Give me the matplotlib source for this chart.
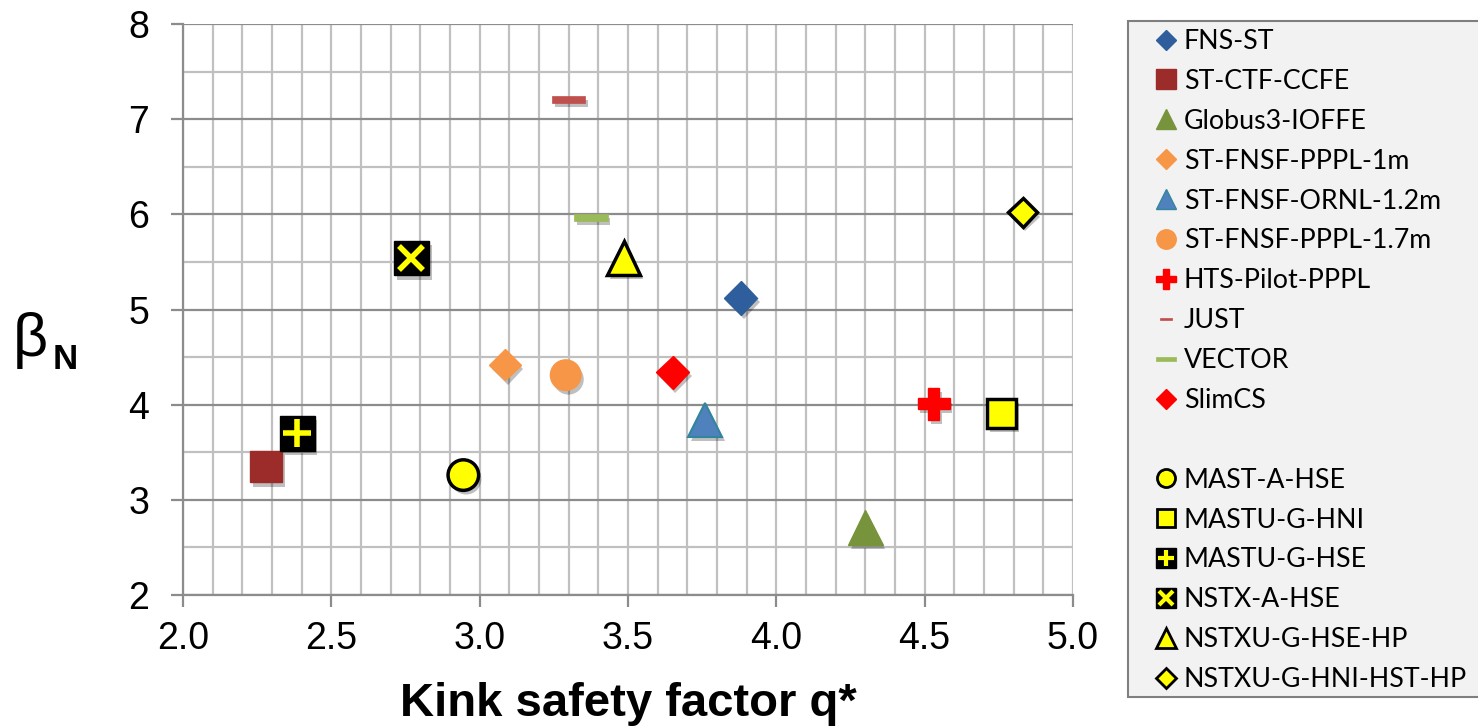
import matplotlib
matplotlib.use('Agg')
import matplotlib.pyplot as plt
import matplotlib.patheffects as pe
from matplotlib.lines import Line2D
from matplotlib.path import Path
from matplotlib.patches import Rectangle
from matplotlib.legend_handler import HandlerTuple

# ---------------- data ----------------
names = ['FNS-ST', 'ST-CTF-CCFE', 'Globus3-IOFFE', 'ST-FNSF-PPPL-1m',
         'ST-FNSF-ORNL-1.2m', 'ST-FNSF-PPPL-1.7m', 'HTS-Pilot-PPPL', 'JUST',
         'VECTOR', 'SlimCS',
         'MAST-A-HSE', 'MASTU-G-HNI', 'MASTU-G-HSE', 'NSTX-A-HSE',
         'NSTXU-G-HSE-HP', 'NSTXU-G-HNI-HST-HP']
q_star = [3.88, 2.28, 4.30, 3.085, 3.76, 3.29, 4.53, 3.30, 3.375, 3.65,
          2.945, 4.76, 2.385, 2.77, 3.485, 4.83]
beta_n = [5.12, 3.35, 2.71, 4.42, 3.84, 4.31, 4.01, 7.21, 5.97, 4.34,
          3.26, 3.91, 3.70, 5.54, 5.54, 6.02]

x_ticks = [2.0, 2.5, 3.0, 3.5, 4.0, 4.5, 5.0]
y_ticks = [2, 3, 4, 5, 6, 7, 8]

# ---------------- styles ----------------
dash = Path([(-1, -0.21), (1, -0.21), (1, 0.21), (-1, 0.21), (-1, -0.21)],
            [Path.MOVETO, Path.LINETO, Path.LINETO, Path.LINETO, Path.CLOSEPOLY])

# each style: list of layers (marker, size, face, edge, edgewidth, legend size, legend edgewidth)
styles = [
    [('D', 17, '#2F5E9C', '#2F5E9C', 1, 10, 1)],
    [('s', 23, '#9B2C2A', '#9B2C2A', 1, 14, 1)],
    [('^', 25, '#77933C', '#77933C', 1, 15, 1)],
    [('D', 16, '#F79646', '#F79646', 1, 10, 1)],
    [('^', 25, '#4F81BD', '#31859C', 1.5, 15, 1)],
    [('o', 22, '#F79646', '#F79646', 1, 14, 1)],
    [('P', 23, '#FF0000', '#FF0000', 1, 14, 1)],
    [(dash, 24, '#C0504D', '#C0504D', 0.5, 8, 0.5)],
    [(dash, 24, '#9BBB59', '#9BBB59', 0.5, 15, 0.5)],
    [('D', 17, '#FF0000', '#FF0000', 1, 10, 1)],
    [('o', 22, '#FFFF00', 'black', 2.5, 13, 2)],
    [('s', 21, '#FFFF00', 'black', 2.5, 13, 2)],
    [('s', 25, 'black', 'black', 1, 14, 1), ('+', 20, 'none', '#FFFF00', 4, 11, 3)],
    [('s', 25, 'black', 'black', 1, 14, 1), ('x', 17, 'none', '#FFFF00', 4, 10, 3)],
    [('^', 24, '#FFFF00', 'black', 2.5, 14, 2)],
    [('D', 15, '#FFFF00', 'black', 2.5, 10, 2)],
]

W, H = 1478, 727
fig = plt.figure(figsize=(W / 100, H / 100), dpi=100)
ax = fig.add_axes([183 / W, 1 - 595 / H, (1073 - 183) / W, (595 - 24) / H])

ax.set_xlim(2.0, 5.0)
ax.set_ylim(2, 8)
ax.set_xticks(x_ticks)
ax.set_xticks([2 + 0.1 * i for i in range(31)], minor=True)
ax.set_yticks(y_ticks)
ax.set_yticks([2.5 + i for i in range(6)], minor=True)
ax.set_xticklabels(['%.1f' % v for v in x_ticks])
ax.set_yticklabels([str(v) for v in y_ticks])

ax.grid(True, which='minor', axis='both', color='#C0C0C0', lw=1.6, zorder=0)
ax.grid(True, which='major', axis='x', color='#C0C0C0', lw=1.6, zorder=0)
ax.grid(True, which='major', axis='y', color='#8C8C8C', lw=1.6, zorder=0)
ax.set_axisbelow(True)
for s in ['top', 'right']:
    ax.spines[s].set_visible(False)
for s in ['left', 'bottom']:
    ax.spines[s].set_color('#8C8C8C')
    ax.spines[s].set_linewidth(1.6)
ax.tick_params(which='major', direction='out', length=8.5, width=1.6, color='#8C8C8C',
               labelsize=27)
ax.tick_params(axis='x', pad=10)
ax.tick_params(axis='y', pad=16)
ax.tick_params(which='minor', length=0)
for lab in ax.get_xticklabels() + ax.get_yticklabels():
    lab.set_fontfamily('Liberation Sans')

shadow = [pe.withSimplePatchShadow(offset=(2, -3), shadow_rgbFace='black', alpha=0.25)]

handles = []
for i, layers in enumerate(styles):
    legend_parts = []
    for j, (m, ms, fc, ec, mew, lms, lmew) in enumerate(layers):
        ax.plot([q_star[i]], [beta_n[i]], linestyle='none', marker=m, markersize=ms,
                markerfacecolor=fc, markeredgecolor=ec, markeredgewidth=mew,
                zorder=3 + j, clip_on=False,
                path_effects=shadow if j == 0 else None)
        legend_parts.append(Line2D([], [], linestyle='none', marker=m, markersize=lms,
                                   markerfacecolor=fc, markeredgecolor=ec,
                                   markeredgewidth=lmew))
    handles.append(tuple(legend_parts) if len(legend_parts) > 1 else legend_parts[0])

blank = Line2D([], [], linestyle='none', marker=None)
leg_handles = handles[:10] + [blank] + handles[10:]
leg_labels = names[:10] + [' '] + names[10:]

# legend box drawn separately for exact placement
fig.patches.append(Rectangle((1128 / W, 1 - 697 / H), (W + 10 - 1128) / W, (697 - 21) / H,
                             transform=fig.transFigure, facecolor='#F2F2F2',
                             edgecolor='#7F7F7F', linewidth=1.5, zorder=0))

leg = fig.legend(leg_handles, leg_labels, loc='upper left',
                 bbox_to_anchor=(1153 / W, 1 - 29 / H),
                 frameon=False, prop={'family': 'Lato', 'size': 19.3},
                 labelspacing=0.555, handlelength=1.0, handletextpad=0.15,
                 borderpad=0, borderaxespad=0,
                 handler_map={tuple: HandlerTuple(ndivide=1, pad=0)})

ax.set_xlabel('Kink safety factor q*', fontsize=34, fontweight='bold',
              fontfamily='Liberation Sans', labelpad=18)
fig.text(30 / W, 1 - 340 / H, 'β', fontsize=44, fontfamily='Liberation Sans',
         ha='center', va='center')
fig.text(65 / W, 1 - 360 / H, 'N', fontsize=25, fontweight='bold',
         fontfamily='Liberation Sans', ha='center', va='center')

fig.savefig('out.png', dpi=100)
